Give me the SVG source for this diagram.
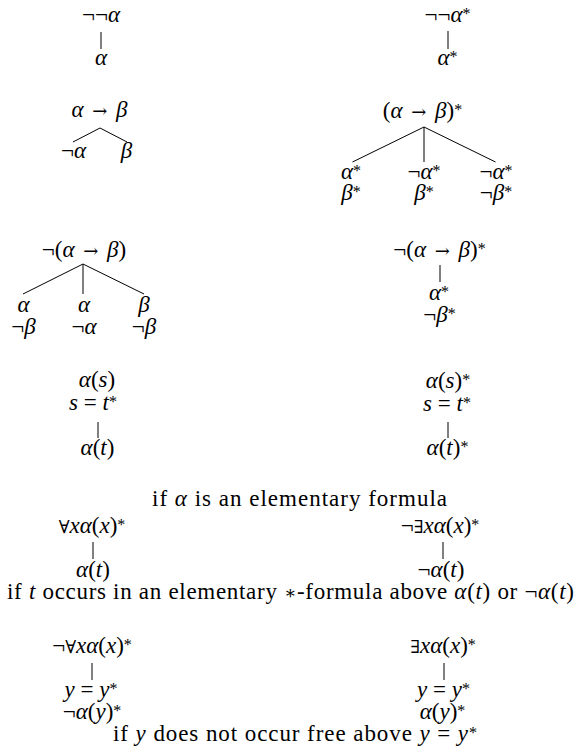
<svg xmlns="http://www.w3.org/2000/svg" width="581" height="754" viewBox="0 0 581 754">
<style>
text{font-family:"Liberation Serif","Times New Roman",serif;font-size:23px;fill:#000;text-anchor:middle}
.i{font-style:italic}
.s{font-size:16px}
.q{font-family:"DejaVu Serif",serif;font-size:18px;font-weight:normal}
.c line{stroke:#000;stroke-width:1}
</style>
<rect width="581" height="754" fill="#fff"/>
<g class="c" id="connectors">
<line x1="101" y1="32" x2="101" y2="49"/>
<line x1="448" y1="31" x2="448" y2="49"/>
<line x1="100" y1="128" x2="73" y2="142"/>
<line x1="100" y1="128" x2="127" y2="142"/>
<line x1="424" y1="127" x2="352.5" y2="162"/>
<line x1="424" y1="127" x2="424" y2="162"/>
<line x1="424" y1="127" x2="495.5" y2="162"/>
<line x1="83" y1="264" x2="23" y2="294"/>
<line x1="83" y1="264" x2="83" y2="294"/>
<line x1="83" y1="264" x2="144" y2="294"/>
<line x1="440" y1="265" x2="440" y2="282"/>
<line x1="98" y1="422" x2="98" y2="438"/>
<line x1="448" y1="422" x2="448" y2="438"/>
<line x1="93" y1="542" x2="93" y2="559"/>
<line x1="443" y1="542" x2="443" y2="559"/>
<line x1="92" y1="663" x2="92" y2="680"/>
<line x1="444" y1="663" x2="444" y2="680"/>
</g>
<g id="n1"><text x="101" y="22">¬¬<tspan class="i">α</tspan></text></g>
<g id="n2"><text x="101" y="65"><tspan class="i">α</tspan></text></g>
<g id="n3"><text x="447.5" y="22">¬¬<tspan class="i">α</tspan><tspan class="s" dy="-3">*</tspan></text></g>
<g id="n4"><text x="447.5" y="65"><tspan class="i">α</tspan><tspan class="s" dy="-3">*</tspan></text></g>
<g id="n5"><text x="99.5" y="117"><tspan class="i">α</tspan> <tspan class="q" dx="3">→</tspan> <tspan class="i" dx="3">β</tspan></text></g>
<g id="n6"><text x="73.5" y="158">¬<tspan class="i">α</tspan></text></g>
<g id="n7"><text x="126.5" y="158"><tspan class="i">β</tspan></text></g>
<g id="n8"><text x="422.5" y="118">(<tspan class="i">α</tspan> <tspan class="q" dx="3">→</tspan> <tspan class="i" dx="3">β</tspan>)<tspan class="s" dy="-3">*</tspan></text></g>
<g id="n9"><text x="351" y="179"><tspan class="i">α</tspan><tspan class="s" dy="-3">*</tspan></text><text x="351" y="200"><tspan class="i">β</tspan><tspan class="s" dy="-3">*</tspan></text></g>
<g id="n10"><text x="424" y="179">¬<tspan class="i">α</tspan><tspan class="s" dy="-3">*</tspan></text><text x="424" y="200"><tspan class="i">β</tspan><tspan class="s" dy="-3">*</tspan></text></g>
<g id="n11"><text x="496" y="179">¬<tspan class="i">α</tspan><tspan class="s" dy="-3">*</tspan></text><text x="496" y="200">¬<tspan class="i">β</tspan><tspan class="s" dy="-3">*</tspan></text></g>
<g id="n12"><text x="84" y="257">¬(<tspan class="i">α</tspan> <tspan class="q" dx="3">→</tspan> <tspan class="i" dx="3">β</tspan>)</text></g>
<g id="n13"><text x="23.5" y="312"><tspan class="i">α</tspan></text><text x="23.5" y="334">¬<tspan class="i">β</tspan></text></g>
<g id="n14"><text x="84" y="312"><tspan class="i">α</tspan></text><text x="84" y="334">¬<tspan class="i">α</tspan></text></g>
<g id="n15"><text x="144" y="312"><tspan class="i">β</tspan></text><text x="144" y="334">¬<tspan class="i">β</tspan></text></g>
<g id="n16"><text x="439.5" y="257">¬(<tspan class="i">α</tspan> <tspan class="q" dx="3">→</tspan> <tspan class="i" dx="3">β</tspan>)<tspan class="s" dy="-3">*</tspan></text></g>
<g id="n17"><text x="439" y="300"><tspan class="i">α</tspan><tspan class="s" dy="-3">*</tspan></text><text x="439.5" y="322">¬<tspan class="i">β</tspan><tspan class="s" dy="-3">*</tspan></text></g>
<g id="n18"><text x="97" y="387"><tspan class="i">α</tspan>(<tspan class="i">s</tspan>)</text><text x="93" y="410"><tspan class="i">s</tspan> = <tspan class="i">t</tspan><tspan class="s" dy="-3">*</tspan></text></g>
<g id="n19"><text x="97.5" y="455"><tspan class="i">α</tspan>(<tspan class="i">t</tspan>)</text></g>
<g id="n20"><text x="448" y="388"><tspan class="i">α</tspan>(<tspan class="i">s</tspan>)<tspan class="s" dy="-3">*</tspan></text><text x="447" y="411"><tspan class="i">s</tspan> = <tspan class="i">t</tspan><tspan class="s" dy="-3">*</tspan></text></g>
<g id="n21"><text x="447.5" y="455"><tspan class="i">α</tspan>(<tspan class="i">t</tspan>)<tspan class="s" dy="-3">*</tspan></text></g>
<g id="note1"><text x="299.5" y="506" textLength="295" lengthAdjust="spacing">if <tspan class="i">α</tspan> is an elementary formula</text></g>
<g id="n22"><text x="92" y="533"><tspan class="q">∀</tspan><tspan class="i">xα</tspan>(<tspan class="i">x</tspan>)<tspan class="s" dy="-3">*</tspan></text></g>
<g id="n23"><text x="93" y="577"><tspan class="i">α</tspan>(<tspan class="i">t</tspan>)</text></g>
<g id="n24"><text x="440" y="533">¬<tspan class="q">∃</tspan><tspan class="i">xα</tspan>(<tspan class="i">x</tspan>)<tspan class="s" dy="-3">*</tspan></text></g>
<g id="n25"><text x="441" y="577">¬<tspan class="i">α</tspan>(<tspan class="i">t</tspan>)</text></g>
<g id="note2"><text x="290.5" y="599" textLength="567" lengthAdjust="spacing">if <tspan class="i">t</tspan> occurs in an elementary <tspan class="q" font-size="16">∗</tspan>-formula above <tspan class="i">α</tspan>(<tspan class="i">t</tspan>) or ¬<tspan class="i">α</tspan>(<tspan class="i">t</tspan>)</text></g>
<g id="n26"><text x="92" y="653">¬<tspan class="q">∀</tspan><tspan class="i">xα</tspan>(<tspan class="i">x</tspan>)<tspan class="s" dy="-3">*</tspan></text></g>
<g id="n27"><text x="91" y="697"><tspan class="i">y</tspan> = <tspan class="i">y</tspan><tspan class="s" dy="-3">*</tspan></text><text x="92" y="719">¬<tspan class="i">α</tspan>(<tspan class="i">y</tspan>)<tspan class="s" dy="-3">*</tspan></text></g>
<g id="n28"><text x="443" y="653"><tspan class="q">∃</tspan><tspan class="i">xα</tspan>(<tspan class="i">x</tspan>)<tspan class="s" dy="-3">*</tspan></text></g>
<g id="n29"><text x="443.5" y="697"><tspan class="i">y</tspan> = <tspan class="i">y</tspan><tspan class="s" dy="-3">*</tspan></text><text x="442.5" y="719"><tspan class="i">α</tspan>(<tspan class="i">y</tspan>)<tspan class="s" dy="-3">*</tspan></text></g>
<g id="note3"><text x="295" y="741" textLength="364" lengthAdjust="spacing">if <tspan class="i">y</tspan> does not occur free above <tspan class="i">y</tspan> = <tspan class="i">y</tspan><tspan class="s" dy="-3">*</tspan></text></g>
</svg>
